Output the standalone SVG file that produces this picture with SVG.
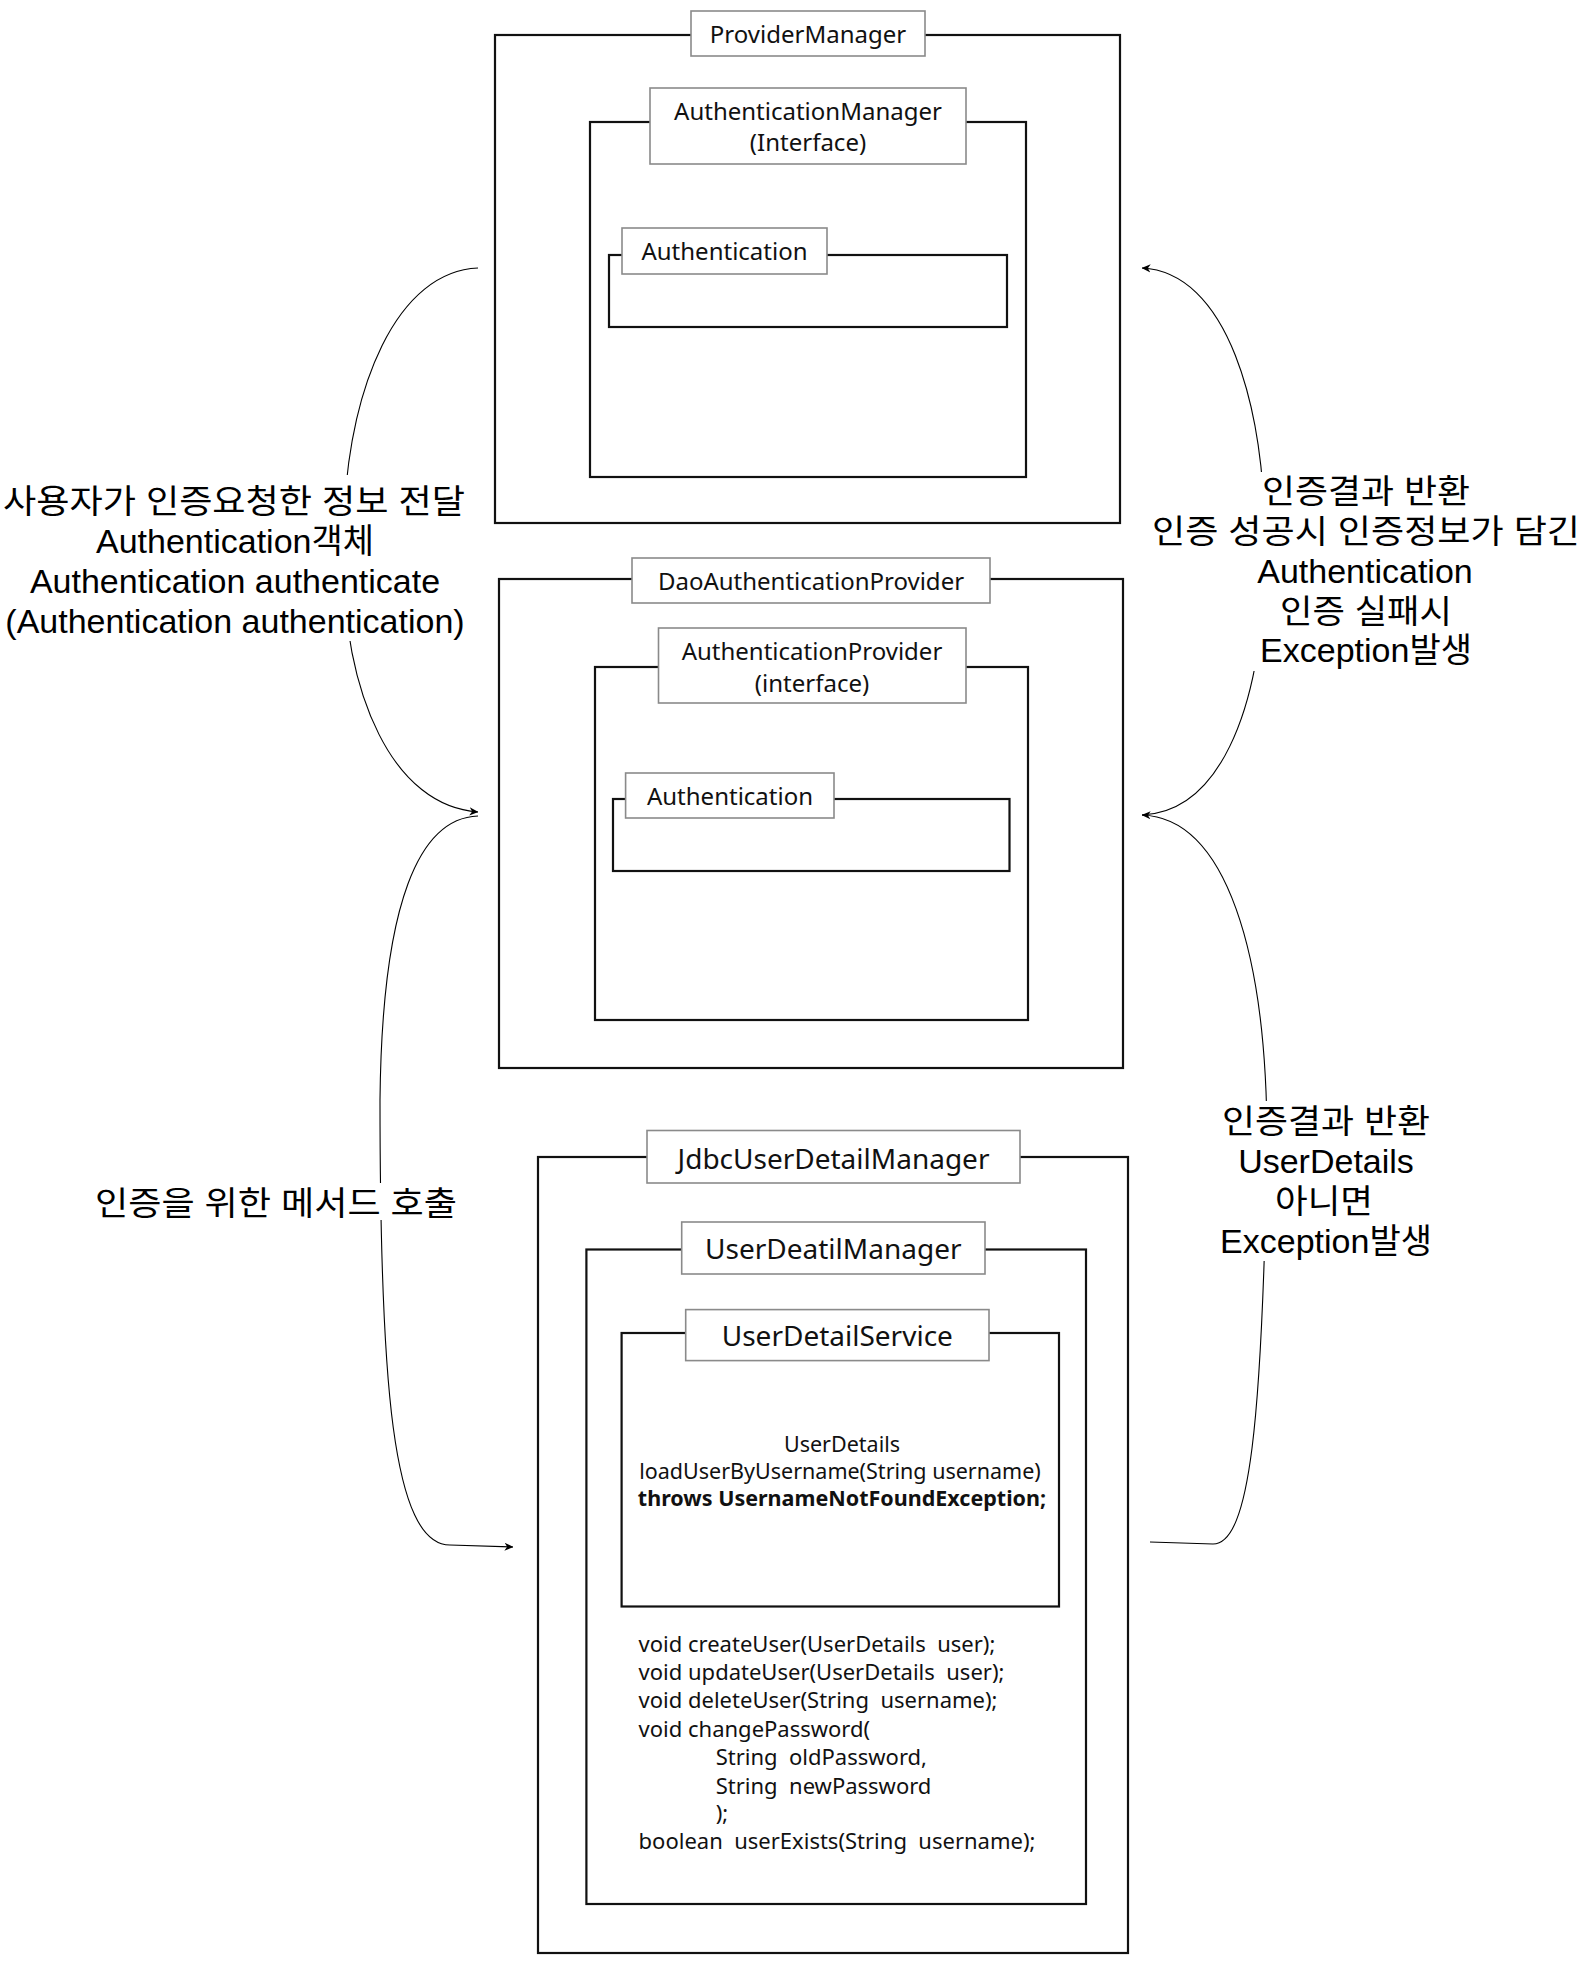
<svg xmlns="http://www.w3.org/2000/svg" width="1583" height="1965" viewBox="0 0 1583 1965">
<style>
.box{fill:none;stroke:#111;stroke-width:2.2}
.lbl{fill:#fff;stroke:#8a8a8a;stroke-width:1.6}
.t{font-family:"Noto Sans","Noto Sans CJK KR",sans-serif;fill:#111;text-anchor:middle}
.s24{font-size:24px}
.s28{font-size:28px}
.code{font-family:"Noto Sans","Noto Sans CJK KR",sans-serif;font-size:22px;fill:#111;white-space:pre}
.note{font-family:"Liberation Sans","Noto Sans CJK KR",sans-serif;font-size:34px;fill:#000;text-anchor:middle}
.ko{font-size:33px}
.bg{fill:#fff;stroke:none}
.edge{fill:none;stroke:#000;stroke-width:1.1}
</style>
<defs>
<marker id="arr" viewBox="0 0 10 10" refX="9.5" refY="5" markerWidth="9" markerHeight="9" markerUnits="userSpaceOnUse" orient="auto">
<path d="M0,0.5 L10,5 L0,9.5 L3,5 z" fill="#000"/>
</marker>
</defs>
<rect width="1583" height="1965" fill="#fff"/>

<g id="providerManager">
<rect class="box" x="495" y="35" width="625" height="488"/>
<rect class="lbl" x="691" y="11" width="234" height="45"/>
<text class="t s24" x="808" y="43">ProviderManager</text>
</g>
<g id="authenticationManager">
<rect class="box" x="590" y="122" width="436" height="355"/>
<rect class="lbl" x="650" y="88" width="316" height="76"/>
<text class="t s24" x="808" y="120">AuthenticationManager</text>
<text class="t s24" x="808" y="151">(Interface)</text>
</g>
<g id="authentication1">
<rect class="box" x="609" y="255" width="398" height="72"/>
<rect class="lbl" x="622" y="228" width="205" height="46"/>
<text class="t s24" x="724.5" y="260">Authentication</text>
</g>

<g id="daoAuthenticationProvider">
<rect class="box" x="499" y="579" width="624" height="489"/>
<rect class="lbl" x="632" y="558" width="358" height="45"/>
<text class="t s24" x="811" y="589.5">DaoAuthenticationProvider</text>
</g>
<g id="authenticationProvider">
<rect class="box" x="595" y="667" width="433" height="353"/>
<rect class="lbl" x="658.5" y="628" width="307.5" height="75"/>
<text class="t s24" x="812" y="660">AuthenticationProvider</text>
<text class="t s24" x="812" y="691.5">(interface)</text>
</g>
<g id="authentication2">
<rect class="box" x="613" y="799" width="396.5" height="72"/>
<rect class="lbl" x="625.6" y="773" width="208.4" height="45"/>
<text class="t s24" x="730" y="804.5">Authentication</text>
</g>

<g id="jdbcUserDetailManager">
<rect class="box" x="538" y="1157" width="590" height="796"/>
<rect class="lbl" x="647" y="1130.5" width="373" height="52.5"/>
<text class="t s28" x="833.5" y="1168.5">JdbcUserDetailManager</text>
</g>
<g id="userDeatilManager">
<rect class="box" x="586.4" y="1249.5" width="499.6" height="654.5"/>
<rect class="lbl" x="681.7" y="1222" width="303.3" height="52"/>
<text class="t s28" x="833.3" y="1258.7">UserDeatilManager</text>
<text class="code" xml:space="preserve" x="638.6" y="1651.7">void createUser(UserDetails  user);</text>
<text class="code" xml:space="preserve" x="638.6" y="1680">void updateUser(UserDetails  user);</text>
<text class="code" xml:space="preserve" x="638.6" y="1708.4">void deleteUser(String  username);</text>
<text class="code" xml:space="preserve" x="638.6" y="1736.8">void changePassword(</text>
<text class="code" xml:space="preserve" x="715.7" y="1765.2">String  oldPassword,</text>
<text class="code" xml:space="preserve" x="715.7" y="1793.6">String  newPassword</text>
<text class="code" xml:space="preserve" x="715.7" y="1821">);</text>
<text class="code" xml:space="preserve" x="638.6" y="1849.4">boolean  userExists(String  username);</text>
</g>
<g id="userDetailService">
<rect class="box" x="621.6" y="1333" width="437.4" height="273.5"/>
<rect class="lbl" x="685.7" y="1309.6" width="303.3" height="51"/>
<text class="t s28" x="837.3" y="1345.7">UserDetailService</text>
<text class="t" style="font-size:21.5px" x="842" y="1452">UserDetails</text>
<text class="t" style="font-size:21.5px" x="840" y="1479">loadUserByUsername(String username)</text>
<text class="t" style="font-size:21.5px;font-weight:bold" x="842" y="1505.5">throws UsernameNotFoundException;</text>
</g>

<g id="connectors">
<path class="edge" d="M478,268 C400,271 345,380 343,545 C342,700 395,806 478,812" marker-end="url(#arr)"/>
<path class="edge" d="M478,816 C420,818 382,900 380,1100 C380,1380 392,1545 450,1545 L513,1547" marker-end="url(#arr)"/>
<path class="edge" d="M1142,815 C1215,812 1262,720 1265,560 C1267,400 1225,272 1142,268" marker-end="url(#arr)"/>
<path class="edge" d="M1150,1542 L1213,1544 C1250,1544 1262,1420 1267,1150 C1268,950 1225,818 1142,815" marker-end="url(#arr)"/>
</g>

<g id="label-request">
<rect class="bg" x="0" y="475" width="470" height="166"/>
<text class="note ko" x="234" y="513" textLength="462" lengthAdjust="spacingAndGlyphs">사용자가 인증요청한 정보 전달</text>
<text class="note" x="235" y="553">Authentication객체</text>
<text class="note" x="235" y="593">Authentication authenticate</text>
<text class="note" x="235" y="633">(Authentication authentication)</text>
</g>
<g id="label-call">
<rect class="bg" x="90" y="1183" width="372" height="37"/>
<text class="note ko" x="276" y="1215" textLength="362" lengthAdjust="spacingAndGlyphs">인증을 위한 메서드 호출</text>
</g>
<g id="label-result1">
<rect class="bg" x="1148" y="472" width="435" height="199"/>
<text class="note ko" x="1366" y="503" textLength="208" lengthAdjust="spacingAndGlyphs">인증결과 반환</text>
<text class="note ko" x="1366" y="543" textLength="428" lengthAdjust="spacingAndGlyphs">인증 성공시 인증정보가 담긴</text>
<text class="note" x="1365" y="583">Authentication</text>
<text class="note ko" x="1366" y="623" textLength="172" lengthAdjust="spacingAndGlyphs">인증 실패시</text>
<text class="note" x="1366" y="662">Exception발생</text>
</g>
<g id="label-result2">
<rect class="bg" x="1215" y="1101" width="225" height="160"/>
<text class="note ko" x="1326" y="1133" textLength="208" lengthAdjust="spacingAndGlyphs">인증결과 반환</text>
<text class="note" x="1326" y="1173">UserDetails</text>
<text class="note ko" x="1324" y="1213" textLength="98" lengthAdjust="spacingAndGlyphs">아니면</text>
<text class="note" x="1326" y="1253">Exception발생</text>
</g>
</svg>
